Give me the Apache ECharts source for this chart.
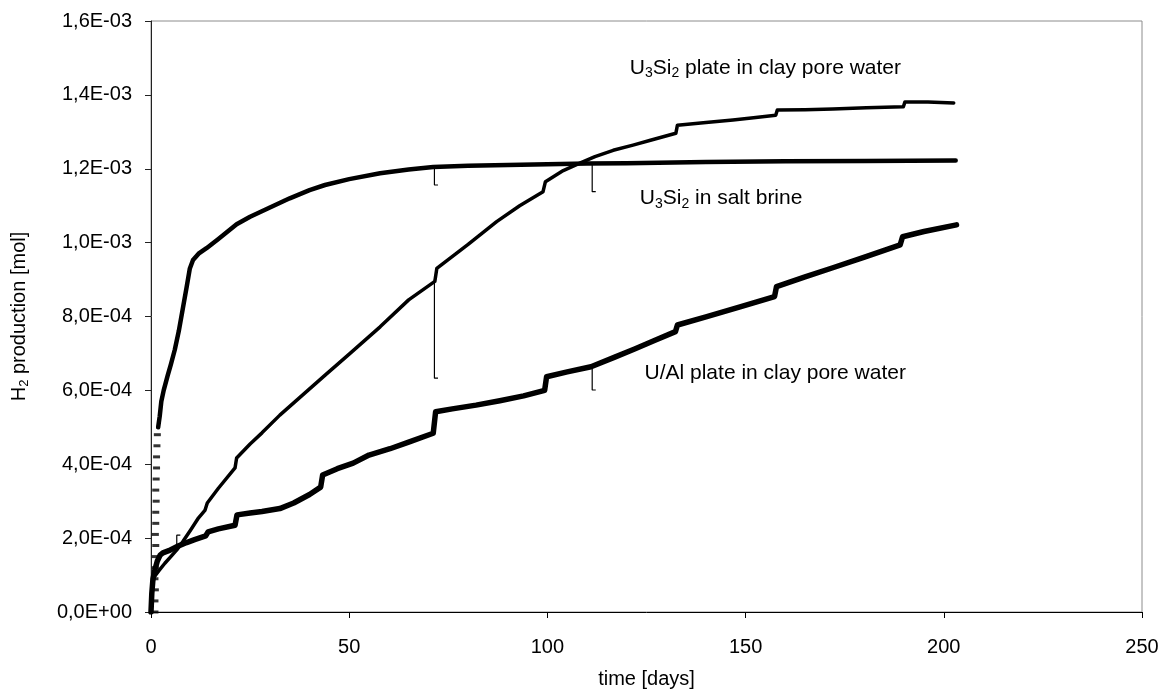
<!DOCTYPE html>
<html>
<head>
<meta charset="utf-8">
<title>H2 production</title>
<script src="https://cdn.jsdelivr.net/npm/echarts@6/dist/echarts.min.js"></script>
<style>
  html, body { margin: 0; padding: 0; background: #fff; }
  #chart { width: 1169px; height: 700px; }
</style>
</head>
<body>
<div id="chart"></div>
<script>
// ---- data: time in days, H2 in mol ----
const xTickLabels = ['0', '50', '100', '150', '200', '250'];
const yTickLabels = ['0,0E+00', '2,0E-04', '4,0E-04', '6,0E-04', '8,0E-04',
                     '1,0E-03', '1,2E-03', '1,4E-03', '1,6E-03'];

// U3Si2 in salt brine: first sparse readings
const brineEarlyDays = [1.0, 1.0, 1.1, 1.0, 1.1, 1.1, 1.2, 1.1, 1.2, 1.2, 1.3, 1.2, 1.3, 1.4, 1.4, 1.5, 1.6];
const brineEarlyH2 = [0, 0.3e-4, 0.6e-4, 0.9e-4, 1.2e-4, 1.5e-4, 1.8e-4, 2.1e-4, 2.4e-4,
                      2.7e-4, 3.0e-4, 3.3e-4, 3.6e-4, 3.9e-4, 4.2e-4, 4.5e-4, 4.8e-4];
// U3Si2 in salt brine: continuous record
const brineDays = [1.8, 2.2, 2.6, 3.2, 4.2, 5.0, 6.0, 7.0, 8.0, 9.0, 9.8, 10.6, 12, 14, 17, 21.6,
                   25, 30, 35, 40, 43.9, 50, 57.8, 65, 71.2, 80, 90, 100, 110, 120, 140, 160, 180, 203];
const brineH2 = [5.0e-4, 5.3e-4, 5.7e-4, 6.0e-4, 6.4e-4, 6.7e-4, 7.1e-4, 7.6e-4, 8.2e-4, 8.8e-4,
                 9.3e-4, 9.53e-4, 9.7e-4, 9.85e-4, 10.1e-4, 10.5e-4, 10.7e-4, 10.95e-4, 11.2e-4,
                 11.42e-4, 11.56e-4, 11.72e-4, 11.88e-4, 11.98e-4, 12.05e-4, 12.08e-4, 12.1e-4,
                 12.12e-4, 12.14e-4, 12.15e-4, 12.18e-4, 12.2e-4, 12.21e-4, 12.22e-4];

// U3Si2 plate in clay pore water
const clayDays = [0, 0.3, 0.8, 2, 3.5, 5, 6.5, 8, 10, 12, 13.6, 14.2, 17, 21.2, 21.6, 25, 28, 32.5,
                  38, 44, 50, 57.8, 65, 71.6, 72.1, 80, 87.2, 93, 98.9, 99.5, 104, 108.2, 112, 116.6,
                  121.6, 126, 132.4, 132.8, 140, 146.8, 152, 157.6, 158, 165, 172, 180.5, 189.8, 190.2,
                  196, 202.5];
const clayH2 = [0, 0.7e-4, 0.95e-4, 1.12e-4, 1.32e-4, 1.5e-4, 1.68e-4, 1.9e-4, 2.22e-4, 2.55e-4,
                2.75e-4, 2.95e-4, 3.35e-4, 3.9e-4, 4.17e-4, 4.55e-4, 4.85e-4, 5.33e-4, 5.85e-4,
                6.42e-4, 6.98e-4, 7.72e-4, 8.45e-4, 8.95e-4, 9.3e-4, 9.95e-4, 10.57e-4, 11.0e-4,
                11.38e-4, 11.65e-4, 11.95e-4, 12.15e-4, 12.33e-4, 12.5e-4, 12.64e-4, 12.77e-4,
                12.96e-4, 13.18e-4, 13.25e-4, 13.32e-4, 13.38e-4, 13.45e-4, 13.59e-4, 13.6e-4,
                13.62e-4, 13.65e-4, 13.68e-4, 13.81e-4, 13.81e-4, 13.78e-4];

// U/Al plate in clay pore water
const uAlDays = [0, 0.2, 0.5, 1, 1.6, 2.3, 3, 4.5, 6.5, 9, 11, 13.8, 14.4, 17, 21.2, 21.7, 25, 28,
                 32.5, 36, 40, 42.8, 43.3, 47, 51, 55, 60.3, 65, 71.2, 71.8, 76, 82, 88, 94, 99.3,
                 99.8, 105, 111, 117, 122, 127, 132.3, 132.8, 140, 148.6, 157.3, 157.8, 165, 172,
                 180, 189, 189.6, 195, 203.2];
const uAlH2 = [0, 0.5e-4, 0.9e-4, 1.15e-4, 1.38e-4, 1.54e-4, 1.6e-4, 1.66e-4, 1.77e-4, 1.88e-4,
               1.96e-4, 2.06e-4, 2.17e-4, 2.25e-4, 2.35e-4, 2.63e-4, 2.68e-4, 2.72e-4, 2.8e-4,
               2.95e-4, 3.18e-4, 3.38e-4, 3.71e-4, 3.88e-4, 4.03e-4, 4.25e-4, 4.42e-4, 4.6e-4,
               4.84e-4, 5.42e-4, 5.5e-4, 5.6e-4, 5.72e-4, 5.85e-4, 6.0e-4, 6.37e-4, 6.5e-4, 6.64e-4,
               6.9e-4, 7.12e-4, 7.35e-4, 7.59e-4, 7.77e-4, 7.99e-4, 8.26e-4, 8.54e-4, 8.81e-4,
               9.07e-4, 9.32e-4, 9.61e-4, 9.94e-4, 10.16e-4, 10.3e-4, 10.48e-4];

// single faulty readings (day, value on the curve, faulty value)
const brineGlitchDays = [71.5, 111.3];
const brineGlitchFrom = [12.05e-4, 12.12e-4];
const brineGlitchTo = [11.56e-4, 11.38e-4];
const clayGlitchDays = [6.5, 71.5];
const clayGlitchFrom = [1.75e-4, 9.0e-4];
const clayGlitchTo = [2.08e-4, 6.33e-4];
const uAlGlitchDays = [111.3];
const uAlGlitchFrom = [6.64e-4];
const uAlGlitchTo = [6.01e-4];

// curve labels, anchored at (day, mol)
const curveLabels = [
  { text: '{n|U}{s|3}{n|Si}{s|2}{n| plate in clay pore water}', day: 120.8, value: 14.73e-4 },
  { text: '{n|U}{s|3}{n|Si}{s|2}{n| in salt brine}', day: 123.3, value: 11.2e-4 },
  { text: '{n|U/Al plate in clay pore water}', day: 124.5, value: 6.47e-4 }
];

// ---- helpers ----
const zip = (xs, ys) => xs.map((x, i) => [x, ys[i]]);
const FONT = 'Liberation Sans, Arial, sans-serif';
const FS = 20;
const richAxis = {
  n: { fontFamily: FONT, fontSize: FS, color: '#000', lineHeight: 24, verticalAlign: 'middle' },
  s: { fontFamily: FONT, fontSize: 13, color: '#000', lineHeight: 13, verticalAlign: 'bottom' }
};
const richNote = {
  n: { fontFamily: FONT, fontSize: 21, color: '#000', lineHeight: 25, verticalAlign: 'middle' },
  s: { fontFamily: FONT, fontSize: 14, color: '#000', lineHeight: 14, verticalAlign: 'bottom' }
};

function glitchSeries(days, from, to) {
  return days.map((d, i) => ({
    type: 'line',
    data: [[d, from[i]], [d, to[i]], [d + 0.9, to[i]]],
    symbol: 'none',
    silent: true,
    lineStyle: { color: '#000', width: 1.2 },
    z: 3
  }));
}

function curve(days, vals, width) {
  return {
    type: 'line',
    data: zip(days, vals),
    symbol: 'none',
    silent: true,
    lineStyle: { color: '#000', width: width, join: 'round', cap: 'round' },
    z: 4
  };
}

const chart = echarts.init(document.getElementById('chart'), null, { renderer: 'canvas' });

const option = {
  animation: false,
  backgroundColor: '#fff',
  grid: {
    left: 151, right: 27, top: 21, bottom: 88,
    show: true, borderColor: '#8c8c8c', borderWidth: 1, backgroundColor: 'transparent'
  },
  xAxis: {
    type: 'value', min: 0, max: 250, interval: 50,
    name: 'time [days]', nameLocation: 'middle', nameGap: 57,
    nameTextStyle: { fontFamily: FONT, fontSize: FS, color: '#000' },
    axisLine: { show: true, lineStyle: { color: '#000', width: 1 } },
    axisTick: { show: true, inside: false, length: 6, lineStyle: { color: '#000' } },
    axisLabel: {
      margin: 25, fontFamily: FONT, fontSize: FS, color: '#000',
      formatter: (v, i) => xTickLabels[i]
    },
    splitLine: { show: false }
  },
  yAxis: {
    type: 'value', min: 0, max: 0.0016, interval: 0.0002,
    name: '{n|H}{s|2}{n| production [mol]}', nameLocation: 'middle', nameGap: 120, nameRotate: 90,
    nameTextStyle: { fontFamily: FONT, fontSize: FS, color: '#000', rich: richAxis },
    axisLine: { show: true, lineStyle: { color: '#222', width: 1 } },
    axisTick: { show: true, inside: false, length: 6, lineStyle: { color: '#222' } },
    axisLabel: {
      margin: 19, fontFamily: FONT, fontSize: FS, color: '#000',
      formatter: (v, i) => yTickLabels[i]
    },
    splitLine: { show: false }
  },
  series: [
    curve(brineDays, brineH2, 4.5),
    {
      type: 'scatter',
      data: zip(brineEarlyDays, brineEarlyH2),
      symbol: 'rect', symbolSize: [7, 3],
      itemStyle: { color: '#000' },
      silent: true, z: 4
    },
    curve(clayDays, clayH2, 3.5),
    curve(uAlDays, uAlH2, 5.5),
    ...glitchSeries(brineGlitchDays, brineGlitchFrom, brineGlitchTo),
    ...glitchSeries(clayGlitchDays, clayGlitchFrom, clayGlitchTo),
    ...glitchSeries(uAlGlitchDays, uAlGlitchFrom, uAlGlitchTo)
  ]
};

chart.setOption(option);

// curve labels placed through the axis scales
const graphics = curveLabels.map(lab => {
  const p = chart.convertToPixel({ gridIndex: 0 }, [lab.day, lab.value]);
  return {
    type: 'text',
    x: p[0], y: p[1],
    silent: true,
    style: {
      text: lab.text,
      rich: richNote,
      verticalAlign: 'middle',
      align: 'left'
    }
  };
});
chart.setOption({ graphic: graphics });
</script>
</body>
</html>
